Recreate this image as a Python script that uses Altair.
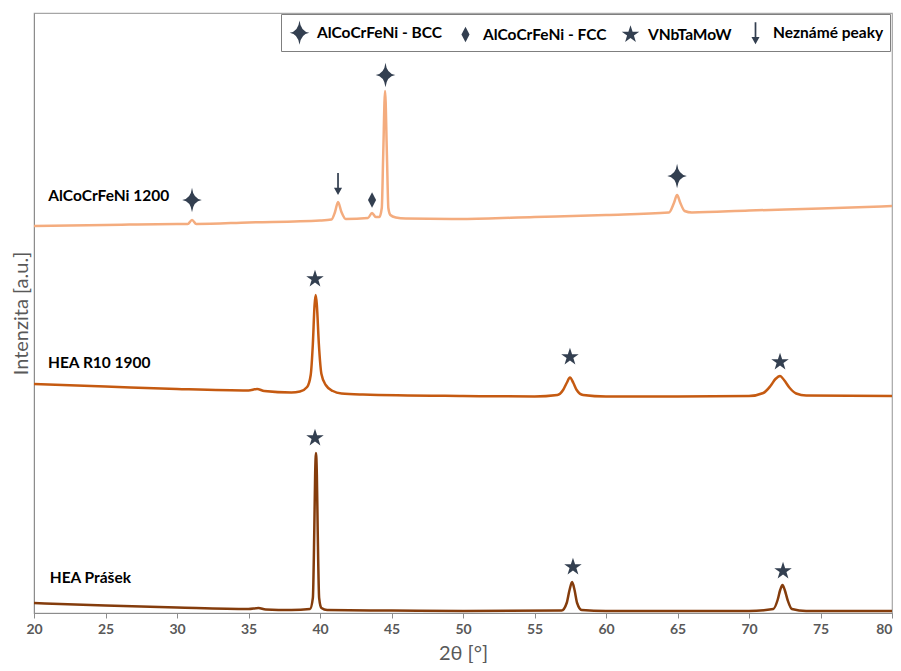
import altair as alt
import pandas as pd

# ---------------- data (2θ, intensity in a.u.) -------------
names = ["AlCoCrFeNi 1200", "HEA R10 1900", "HEA Prášek"]
colors = ["#F4AC7E", "#C55A11", "#843C0C"]

c1_x = [20, 25, 30, 30.75, 31.05, 31.35, 35, 40, 40.8, 41.05, 41.26, 41.5, 41.8,
        43.35, 43.64, 43.9, 44.15, 44.32, 44.42, 44.55, 44.68, 44.78, 44.92, 45.3,
        46, 50, 55, 60, 64.4, 64.75, 64.97, 65.2, 65.5, 66, 70, 75, 80]
c1_y = [387, 388, 389, 389, 393, 389, 390.5, 392.5, 393.5, 401, 411, 401, 394,
        395, 400, 396, 396, 405, 458, 522, 458, 405, 398, 395.5,
        394.5, 394, 396, 398, 400.5, 410, 418, 410, 402, 400.5, 402.5, 404.5, 407]

c2_x = [20, 25, 30, 35, 35.6, 36.1, 38, 38.6, 39.1, 39.35, 39.5, 39.62, 39.7, 39.78,
        39.92, 40.1, 40.4, 40.9, 41.5, 43, 50, 55, 56.6, 57.0, 57.25, 57.48, 57.72,
        57.95, 58.4, 60, 65, 70, 71.0, 71.5, 71.85, 72.17, 72.45, 72.85, 73.3, 74, 80]
c2_y = [229, 226.5, 224, 222.5, 224, 222, 220.5, 221.5, 226, 238, 269, 308, 318, 308,
        269, 239, 228, 222, 219.5, 218.5, 217, 216.5, 218, 223, 230, 235.5, 230,
        223, 218, 216.5, 216.5, 217, 220, 227, 234, 237, 233, 225, 219.5, 217.5, 217]

c3_x = [20, 25, 30, 35, 35.7, 36.2, 38, 39.3, 39.5, 39.6, 39.66, 39.72, 39.78, 39.84,
        39.94, 40.1, 40.5, 45, 50, 56.9, 57.25, 57.45, 57.63, 57.8, 57.98, 58.3, 60,
        70, 71.7, 72.0, 72.18, 72.34, 72.5, 72.7, 73.0, 74, 80]
c3_y = [10, 7.5, 5.5, 4, 5, 3.5, 3, 4, 15, 82, 138, 160, 138, 82,
        15, 5, 3, 2.5, 2, 2.5, 10, 23, 31, 23, 10, 3, 2,
        2, 4, 13, 23, 28, 23, 13, 4, 2, 2]

# peak markers
mk_type = ["AlCoCrFeNi - BCC", "AlCoCrFeNi - BCC", "AlCoCrFeNi - BCC",
           "AlCoCrFeNi - FCC", "Neznámé peaky",
           "VNbTaMoW", "VNbTaMoW", "VNbTaMoW", "VNbTaMoW", "VNbTaMoW", "VNbTaMoW"]
mk_x = [31.05, 44.58, 64.97, 43.64, 41.26, 39.65, 57.48, 72.17, 39.65, 57.69, 72.38]
mk_y = [413, 538, 437, 413, 429, 334, 256, 251, 175, 46, 42]

legend_order = ["AlCoCrFeNi - BCC", "AlCoCrFeNi - FCC", "VNbTaMoW", "Neznámé peaky"]
shape_paths = [
    "M0,-1 Q0.1,-0.1 0.8,0 Q0.1,0.1 0,1 Q-0.1,0.1 -0.8,0 Q-0.1,-0.1 0,-1 Z",
    "M0,-0.64 L0.33,0 L0,0.64 L-0.33,0 Z",
    "M0,-0.75 L0.172,-0.232 L0.713,-0.232 L0.278,0.088 L0.441,0.607 L0,0.293 "
    "L-0.441,0.607 L-0.278,0.088 L-0.713,-0.232 L-0.172,-0.232 Z",
    "M-0.07,-0.9 L0.07,-0.9 L0.07,0.3 L0.33,0.3 L0,0.9 L-0.33,0.3 L-0.07,0.3 Z",
]

lab_text = names
lab_x = [21.0, 20.98, 21.1]
lab_y = [417, 250, 35]

tick_vals = [20, 25, 30, 35, 40, 45, 50, 55, 60, 65, 70, 75, 80]

# ---------------- tables ----------------
rows = []
for nm, xs, ys in zip(names, [c1_x, c2_x, c3_x], [c1_y, c2_y, c3_y]):
    for a, b in zip(xs, ys):
        rows.append({"sample": nm, "t": a, "v": b})
lines_df = pd.DataFrame(rows)
mk_df = pd.DataFrame({"type": mk_type, "t": mk_x, "v": mk_y})
lab_df = pd.DataFrame({"label": lab_text, "t": lab_x, "v": lab_y})

FONT = "Lato, 'DejaVu Sans', sans-serif"
INK = "#333f50"

x_scale = alt.Scale(domain=[20, 80], nice=False, zero=False)
y_scale = alt.Scale(domain=[0, 600], nice=False, zero=False)

x_enc = alt.X("t:Q", scale=x_scale,
              axis=alt.Axis(values=tick_vals, title="2θ [°]", grid=False,
                            format="d", labelFlush=False,
                            labelAlign=alt.ExprRef(expr="datum.value >= 80 ? 'right' : 'center'")))
y_enc = alt.Y("v:Q", scale=y_scale,
              axis=alt.Axis(title="Intenzita [a.u.]", labels=False, ticks=False, grid=False))

lines = alt.Chart(lines_df).mark_line(strokeWidth=2.5, interpolate="monotone").encode(
    x=x_enc, y=y_enc,
    color=alt.Color("sample:N", scale=alt.Scale(domain=names, range=colors), legend=None),
)

markers = alt.Chart(mk_df).mark_point(filled=True, opacity=1, size=600, color=INK,
                                      strokeWidth=0).encode(
    x="t:Q", y="v:Q",
    shape=alt.Shape("type:N",
                    scale=alt.Scale(domain=legend_order, range=shape_paths),
                    legend=alt.Legend(title=None, orient="none", legendX=247, legendY=1,
                                      direction="horizontal", symbolSize=600,
                                      symbolFillColor=INK, symbolStrokeWidth=0,
                                      symbolOpacity=1,
                                      labelFont=FONT, labelFontSize=15.5,
                                      labelFontWeight="bold", labelColor="black",
                                      labelLimit=300,
                                      strokeColor="#7f7f7f", fillColor="white",
                                      padding=6, columnPadding=11, labelOffset=5)),
)

labels = alt.Chart(lab_df).mark_text(align="left", baseline="middle", font=FONT,
                                     fontSize=15.5, fontWeight="bold", color="black").encode(
    x="t:Q", y="v:Q", text="label:N")

chart = (lines + markers + labels).properties(
    width=858, height=600,
    autosize=alt.AutoSizeParams(type="none"),
    padding={"left": 26, "top": 5, "right": 1, "bottom": 50},
).configure_view(stroke="#a6a6a6", strokeWidth=1.2).configure_axis(
    domainColor="#8c8c8c", tickColor="#8c8c8c", tickSize=5,
    labelColor="#595959", labelFont=FONT, labelFontSize=14, labelFontWeight="bold",
    labelPadding=4, titleFont=FONT, titleColor="#595959", titleFontWeight="normal",
).configure_axisX(titleFontSize=20, titlePadding=7).configure_axisY(
    titleFontSize=20, titlePadding=3)

chart.save("out.html", embed_options={"renderer": "svg", "actions": False})
